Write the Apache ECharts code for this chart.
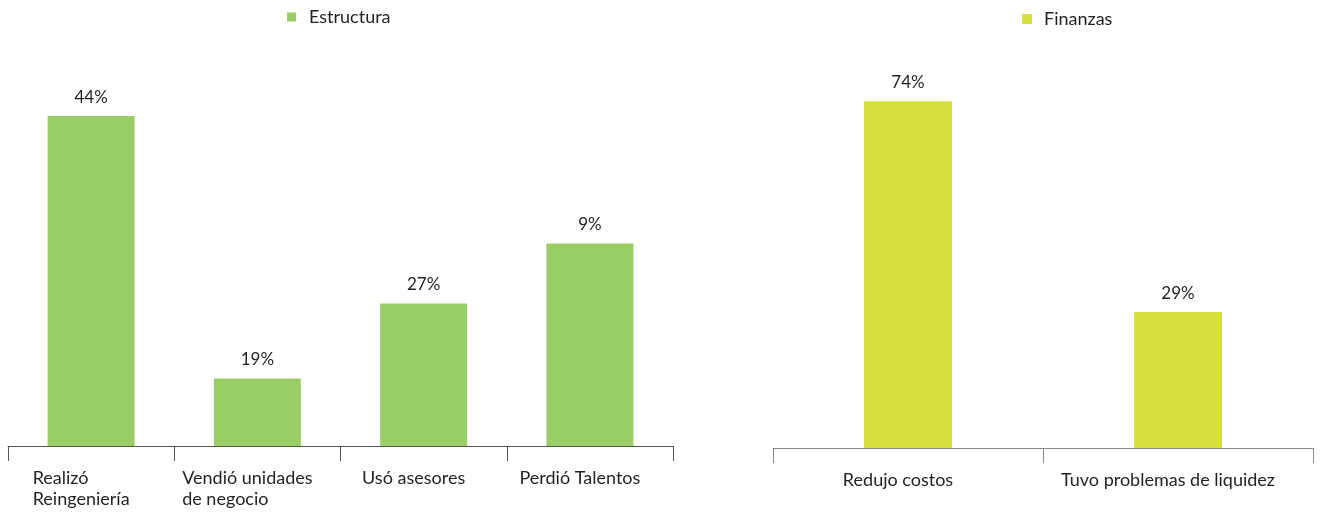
<!DOCTYPE html>
<html>
<head>
<meta charset="utf-8">
<script src="https://cdn.jsdelivr.net/npm/echarts@6/dist/echarts.min.js"></script>
<style>
html,body{margin:0;padding:0;background:#fff;}
#c{width:1326px;height:514px;}
</style>
</head>
<body>
<div id="c"></div>
<script>
// Left chart: Estructura
var estructuraCategories = ['Realizó\nReingeniería', 'Vendió unidades\nde negocio', 'Usó asesores', 'Perdió Talentos'];
var estructuraValues = [44, 9, 19, 27];           // bar heights as drawn
var estructuraLabels = ['44%', '19%', '27%', '9%']; // printed labels as shown
// Right chart: Finanzas
var finanzasCategories = ['Redujo costos', 'Tuvo problemas de liquidez'];
var finanzasValues = [74, 29];
var finanzasLabels = ['74%', '29%'];

var FONT = 'Lato';
var TXT = '#231f20';

function richLines(v) {
  return v.split('\n').map(function (s) { return '{a|' + s + '}'; }).join('\n');
}

var chart = echarts.init(document.getElementById('c'), null, {renderer: 'canvas'});
chart.setOption({
  animation: false,
  textStyle: {fontFamily: FONT},
  legend: [
    {
      data: ['Estructura'], left: 287, top: 8, padding: 0, itemWidth: 9, itemHeight: 9, icon: 'rect',
      textStyle: {fontFamily: FONT, fontSize: 18, color: TXT, padding: [0, 0, 0, 8]}
    },
    {
      data: ['Finanzas'], left: 1022, top: 10, padding: 0, itemWidth: 10, itemHeight: 10, icon: 'rect',
      textStyle: {fontFamily: FONT, fontSize: 18, color: TXT, padding: [0, 0, 0, 7]}
    }
  ],
  grid: [
    {left: 8, width: 665, top: 71, height: 375},
    {left: 773, width: 540, top: 73, height: 375}
  ],
  xAxis: [
    {
      type: 'category', gridIndex: 0, data: estructuraCategories,
      axisLine: {lineStyle: {color: '#555', width: 1}},
      axisTick: {show: true, interval: 0, length: 15, lineStyle: {color: '#555'}},
      axisLabel: {
        interval: 0, margin: 22, fontSize: 18, color: TXT, fontFamily: FONT, lineHeight: 21,
        padding: [0, 20, 0, 0], formatter: richLines,
        rich: {a: {align: 'left', fontSize: 18, fontFamily: FONT, color: TXT, lineHeight: 21}}
      }
    },
    {
      type: 'category', gridIndex: 1, data: finanzasCategories,
      axisLine: {lineStyle: {color: '#888', width: 1}},
      axisTick: {show: true, interval: 0, length: 15, lineStyle: {color: '#888'}},
      axisLabel: {
        interval: 0, margin: 22, fontSize: 18, color: TXT, fontFamily: FONT, lineHeight: 21,
        padding: [0, 20, 0, 0]
      }
    }
  ],
  yAxis: [
    {type: 'value', gridIndex: 0, min: 0, max: 50, show: false, splitLine: {show: false}},
    {type: 'value', gridIndex: 1, min: 0, max: 80, show: false, splitLine: {show: false}}
  ],
  series: [
    {
      name: 'Estructura', type: 'bar', xAxisIndex: 0, yAxisIndex: 0,
      data: estructuraValues, barWidth: 87,
      itemStyle: {color: '#9acd68'},
      label: {
        show: true, position: 'top', distance: 10, fontSize: 17, color: TXT, fontFamily: FONT,
        formatter: function (p) { return estructuraLabels[p.dataIndex]; }
      }
    },
    {
      name: 'Finanzas', type: 'bar', xAxisIndex: 1, yAxisIndex: 1,
      data: finanzasValues, barWidth: 88,
      itemStyle: {color: '#d5e040'},
      label: {
        show: true, position: 'top', distance: 10, fontSize: 17, color: TXT, fontFamily: FONT,
        formatter: function (p) { return finanzasLabels[p.dataIndex]; }
      }
    }
  ]
});
</script>
</body>
</html>
